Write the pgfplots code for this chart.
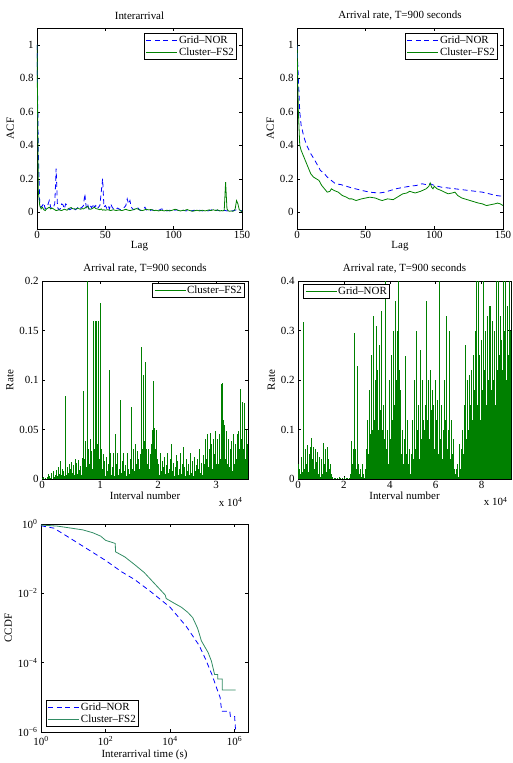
\documentclass[border=0pt]{standalone}
\usepackage{pgfplots}
\pgfplotsset{compat=1.18}
\usepackage{pgfplotstable}
\usepackage{fontspec}
\setmainfont{Liberation Serif}
\newcommand\fs{\fontsize{11}{13}\selectfont}
\definecolor{mblue}{rgb}{0,0,1}
\definecolor{mgreen}{rgb}{0,0.5,0}
\definecolor{tgreen}{RGB}{50,140,100}

% ACF of interarrival times, lags 0..150
\pgfplotstableread[row sep=\\]{y\\
1\\0.12\\0.04\\0.02\\0.03\\0.015\\0.01\\0.02\\0.025\\0.03\\
0.02\\0.025\\0.02\\0.015\\0.01\\0.012\\0.015\\0.012\\0.01\\0.014\\
0.018\\0.015\\0.012\\0.02\\0.025\\0.028\\0.022\\0.02\\0.018\\0.022\\
0.025\\0.02\\0.018\\0.022\\0.02\\0.025\\0.03\\0.035\\0.02\\0.018\\
0.02\\0.025\\0.03\\0.022\\0.02\\0.018\\0.015\\0.02\\0.012\\0.015\\
0.012\\0.014\\0.015\\0.012\\0.01\\0.013\\0.015\\0.012\\0.01\\0.012\\
0.014\\0.012\\0.01\\0.012\\0.015\\0.018\\0.014\\0.012\\0.01\\0.012\\
0.014\\0.016\\0.02\\0.022\\0.018\\0.014\\0.012\\0.01\\0.012\\0.015\\
0.018\\0.015\\0.014\\0.016\\0.015\\0.012\\0.01\\0.012\\0.01\\0.008\\
0.01\\0.012\\0.01\\0.008\\0.01\\0.012\\0.01\\0.008\\0.01\\0.012\\
0.015\\0.018\\0.016\\0.012\\0.01\\0.008\\0.01\\0.012\\0.01\\0.014\\
0.016\\0.012\\0.01\\0.008\\0.006\\0.008\\0.01\\0.012\\0.01\\0.008\\
0.01\\0.012\\0.01\\0.008\\0.01\\0.012\\0.014\\0.01\\0.012\\0.015\\
0.012\\0.01\\0.015\\0.01\\0.008\\0.01\\0.008\\0.012\\0.18\\0.02\\
0.008\\0.006\\0.008\\0.006\\0.008\\0.02\\0.07\\0.05\\0.015\\0.01\\
0.002\\
}\acfClusterIA

\pgfplotstableread[row sep=\\]{y\\
1\\0.35\\0.05\\0.03\\0.04\\0.055\\0.02\\0.03\\0.045\\0.07\\
0.03\\0.02\\0.03\\0.05\\0.26\\0.03\\0.015\\0.02\\0.05\\0.045\\
0.02\\0.05\\0.04\\0.02\\0.015\\0.02\\0.03\\0.025\\0.015\\0.02\\
0.03\\0.02\\0.025\\0.03\\0.04\\0.11\\0.03\\0.05\\0.02\\0.04\\
0.025\\0.05\\0.03\\0.04\\0.02\\0.03\\0.04\\0.12\\0.2\\0.03\\
0.04\\0.025\\0.04\\0.02\\0.05\\0.03\\0.02\\0.015\\0.02\\0.025\\
0.02\\0.015\\0.02\\0.025\\0.03\\0.04\\0.08\\0.05\\0.07\\0.03\\
0.02\\0.015\\0.02\\0.03\\0.025\\0.015\\0.01\\0.015\\0.02\\0.03\\
0.015\\0.01\\0.012\\0.01\\0.015\\0.012\\0.01\\0.008\\0.01\\0.012\\
0.015\\0.02\\0.018\\0.012\\0.01\\0.008\\0.01\\0.012\\0.01\\0.008\\
0.01\\0.012\\0.015\\0.012\\0.01\\0.008\\0.01\\0.012\\0.01\\0.008\\
0.01\\0.012\\0.01\\0.008\\0.01\\0.012\\0.01\\0.008\\0.01\\0.012\\
0.01\\0.008\\0.01\\0.012\\0.01\\0.008\\0.01\\0.012\\0.015\\0.02\\
0.015\\0.01\\0.012\\0.01\\0.008\\0.01\\0.012\\0.01\\0.01\\0.008\\
0.01\\0.012\\0.01\\0.008\\0.01\\0.012\\0.015\\0.012\\0.01\\0.008\\
0.01\\
}\acfGridIA

% Arrival rate per 900 s interval, Cluster-FS2 (one value every 150 intervals)
\pgfplotstableread[row sep=\\]{y\\
0.001\\0\\0.002\\0\\0.001\\0\\0.002\\
0.005\\0\\0.003\\0.001\\0.006\\0\\0.008\\
0.002\\0.004\\0.001\\0.009\\0.003\\0.012\\0.005\\
0.018\\0.004\\0.010\\0.002\\0.008\\0.003\\
0.084\\
0.004\\0.012\\0.006\\0.015\\0.003\\0.010\\0.017\\0.006\\0.014\\0.004\\
0.020\\0.008\\0.016\\0.005\\0.019\\0.009\\0.013\\0.004\\0.021\\0.010\\
0.089\\
0.02\\0.038\\0.012\\0.2\\0.03\\0.015\\0.04\\0.02\\0.028\\0.01\\0.16\\
0.03\\0.16\\0.02\\0.16\\0.035\\0.16\\0.02\\0.178\\0.03\\0.01\\0.025\\
0.005\\0.018\\0.003\\0.022\\0.008\\0.015\\
0.11\\
0.006\\0.026\\0.004\\0.012\\0.026\\0.003\\
0.045\\
0.005\\0.015\\0.026\\0.004\\0.01\\
0.08\\
0.006\\0.018\\0.004\\0.026\\0.008\\
0.014\\0.003\\0.026\\0.01\\0.005\\0.02\\0.007\\
0.073\\
0.01\\0.03\\0.008\\0.035\\0.015\\0.028\\0.006\\0.02\\0.01\\
0.025\\0.133\\0.03\\0.04\\0.105\\0.038\\0.118\\0.03\\0.015\\0.03\\0.01\\
0.025\\0.008\\0.035\\0.05\\0.099\\0.052\\0.03\\0.05\\0.02\\0.01\\
0.015\\0.004\\0.026\\0.008\\0.018\\0.003\\0.012\\0.022\\0.005\\0.014\\
0.026\\0.006\\0.01\\0.02\\0.004\\0.035\\0.008\\0.016\\0.003\\0.012\\
0.024\\0.006\\0.018\\0.004\\0.01\\0.026\\0.005\\0.015\\0.032\\0.007\\
0.012\\0.003\\0.02\\0.008\\0.015\\0.004\\0.026\\0.01\\0.006\\0.018\\
0.003\\0.022\\0.008\\0.014\\0.004\\0.02\\0.01\\0.03\\0.006\\0.016\\
0.004\\0.024\\0.009\\
0.015\\0.04\\0.02\\0.045\\0.012\\0.03\\0.046\\0.018\\0.035\\0.01\\0.04\\0.025\\0.048\\0.015\\
0.03\\0.04\\0.015\\0.045\\0.02\\0.096\\0.097\\0.06\\0.025\\0.055\\
0.02\\0.048\\0.015\\0.04\\0.012\\0.03\\0.02\\0.038\\0.008\\0.045\\
0.015\\0.035\\0.02\\0.045\\0.01\\0.048\\0.03\\0.091\\0.04\\0.078\\
0.03\\0.077\\0.05\\0.02\\0.05\\0.035\\
}\rateCluster

% Arrival rate per 900 s interval, Grid-NOR (one value every 400 intervals)
\pgfplotstableread[row sep=\\]{y\\
0.03\\0.005\\0.02\\0.01\\0.045\\0.015\\
0.318\\
0.02\\0.06\\0.03\\0.068\\0.015\\0.05\\0.065\\0.025\\
0.082\\
0.04\\0.065\\0.02\\0.06\\0.035\\0.055\\0.01\\0.045\\0.005\\
0.02\\0.04\\0.01\\0.072\\0.03\\0.06\\0.015\\0.065\\
0.04\\0.02\\0.03\\0.01\\0.005\\
0.004\\0.001\\0.003\\0.002\\0\\0.002\\0.001\\0.004\\0.002\\0\\
0.003\\0.001\\0.004\\0.001\\0\\0.002\\0.003\\0.001\\0.002\\0.01\\
0.077\\0.03\\0.06\\0.295\\0.04\\0.06\\0.02\\0.228\\0.03\\0.01\\0.02\\0.005\\0.03\\0.01\\0.002\\0.02\\0.005\\
0.06\\0.12\\0.05\\0.18\\0.09\\0.25\\0.1\\0.33\\0.12\\0.2\\
0.31\\0.15\\0.22\\0.1\\0.27\\0.14\\0.34\\0.1\\0.15\\
0.08\\0.4\\0.06\\
0.1\\0.03\\0.15\\0.2\\0.08\\0.25\\0.12\\0.3\\0.15\\0.36\\0.2\\0.3\\0.4\\0.22\\0.12\\0.18\\0.05\\
0.1\\0.03\\0.08\\0.248\\
0.05\\0.12\\0.03\\0.06\\0.01\\
0\\
0.05\\0.12\\0.04\\0.2\\0.06\\0.3\\0.1\\0.15\\0.04\\0.26\\0.08\\0.2\\0.05\\0.12\\
0.1\\0.15\\0.36\\0.12\\0.2\\0.08\\0.22\\0.14\\0.18\\0.1\\0.15\\0.06\\0.2\\0.12\\0.16\\0.05\\0.4\\
0.08\\0.15\\0.04\\0.1\\0.2\\0.07\\0.12\\0.33\\0.06\\0.1\\0.3\\0.04\\0.12\\0.05\\0.08\\0.02\\0.01\\0.02\\
0.01\\0.03\\0.005\\0.07\\0.02\\0.06\\0.1\\0.05\\
0.15\\0.27\\0.08\\0.2\\0.12\\
0.1\\0.21\\0.15\\0.22\\0.12\\0.25\\0.18\\0.3\\0.4\\0.15\\
0.4\\0.2\\0.25\\0.12\\0.28\\0.18\\0.4\\0.22\\0.3\\0.15\\
0.33\\0.2\\0.35\\0.25\\0.35\\0.18\\0.32\\0.2\\0.3\\0.15\\
0.4\\0.22\\0.4\\0.25\\0.33\\0.18\\0.28\\0.22\\0.4\\0.3\\
0.4\\0.2\\0.35\\0.25\\0.4\\0.3\\0.4\\
}\rateGrid

\pgfplotsset{
  panel/.style={
    scale only axis, anchor=north west,
    font=\fs,
    axis line style={line width=0.5pt},
    every tick/.style={black, line width=0.5pt},
    major tick length=3bp,
    tick align=inside,
    /pgf/number format/assume math mode=true,
    title style={font=\fs, yshift=-1.5bp},
    label style={font=\fs},
    xlabel style={yshift=4bp},
    ylabel style={yshift=-1bp},
    xticklabel style={yshift=1bp},
    legend style={font=\fs, draw=black, line width=0.6pt, inner sep=1.5pt,
      nodes={inner sep=1.2pt}},
    legend cell align=left,
    legend image code/.code={\draw[##1] (0bp,0bp) -- (31bp,0bp);},
    scaled ticks=false,
    yticklabel style={/pgf/number format/fixed, /pgf/number format/precision=2},
  },
  gridline/.style={mblue, line width=0.8pt, dash pattern=on 5bp off 3.5bp},
  clusterline/.style={mgreen, line width=0.8pt},
  tenfour/.style={after end axis/.code={
    \node[anchor=base east, font=\fs] at (rel axis cs:1,0) [xshift=#1, yshift=-27bp] {x 10\textsuperscript{4}};}},
}

\begin{document}
\begin{tikzpicture}
\path[use as bounding box] (0,0) rectangle (513bp,-763bp);

% Autocorrelation of interarrival times
\begin{axis}[panel, at={(37bp,-28bp)}, width=205bp, height=201bp,
  title={Interarrival}, xlabel={Lag}, ylabel={ACF},
  xmin=0, xmax=150, ymin=-0.1, ymax=1.1,
  xtick={0,50,100,150}, ytick={0,0.2,0.4,0.6,0.8,1},
  legend style={at={(0.975,0.975)}, anchor=north east}]
\addplot[gridline] table[x expr=\coordindex, y=y]{\acfGridIA};
\addlegendentry{Grid--NOR}
\addplot[clusterline] table[x expr=\coordindex, y=y]{\acfClusterIA};
\addlegendentry{Cluster--FS2}
\end{axis}

% Autocorrelation of arrival rate
\begin{axis}[panel, at={(297bp,-28bp)}, width=206bp, height=201bp,
  title={Arrival rate, T=900 seconds}, xlabel={Lag}, ylabel={ACF},
  xmin=0, xmax=150, ymin=-0.1, ymax=1.1,
  xtick={0,50,100,150}, ytick={0,0.2,0.4,0.6,0.8,1},
  legend style={at={(0.975,0.975)}, anchor=north east}]
\addplot[gridline] coordinates {(0,1)(1,0.8)(2,0.6)(3,0.52)(5,0.45)(7,0.4)(10,0.35)(13,0.31)(15,0.28)(17,0.25)(20,0.23)(22,0.21)(25,0.19)(28,0.17)(32,0.165)(36,0.155)(40,0.145)(45,0.135)(50,0.125)(55,0.118)(60,0.115)(64,0.12)(68,0.13)(72,0.14)(77,0.148)(82,0.155)(87,0.16)(91,0.17)(94,0.165)(97,0.17)(100,0.16)(105,0.15)(110,0.145)(115,0.14)(120,0.135)(125,0.13)(130,0.125)(135,0.12)(140,0.11)(145,0.1)(150,0.095)};
\addlegendentry{Grid--NOR}
\addplot[clusterline] coordinates {(0,1)(1,0.6)(2,0.4)(3,0.37)(5,0.33)(7,0.29)(8,0.27)(10,0.23)(12,0.21)(14,0.2)(16,0.19)(18,0.16)(20,0.14)(22,0.12)(24,0.125)(25,0.14)(27,0.13)(30,0.12)(33,0.1)(36,0.09)(38,0.08)(40,0.08)(43,0.07)(47,0.08)(50,0.085)(53,0.09)(57,0.085)(60,0.075)(62,0.07)(66,0.08)(70,0.075)(73,0.09)(77,0.11)(80,0.115)(82,0.125)(86,0.115)(90,0.125)(94,0.14)(96,0.155)(97,0.175)(98,0.15)(99,0.14)(100,0.155)(102,0.14)(105,0.13)(110,0.11)(113,0.115)(115,0.12)(117,0.1)(120,0.085)(124,0.075)(128,0.065)(132,0.055)(135,0.05)(138,0.04)(141,0.045)(144,0.05)(146,0.055)(148,0.05)(150,0.04)};
\addlegendentry{Cluster--FS2}
\end{axis}

% Arrival rate series, Cluster-FS2
\begin{axis}[panel, tenfour=-2bp, at={(42bp,-281bp)}, width=206bp, height=198bp,
  title={Arrival rate, T=900 seconds}, xlabel={Interval number}, ylabel={Rate},
  xmin=0, xmax=3.55, ymin=0, ymax=0.2,
  xtick={0,1,2,3}, ytick={0,0.05,0.1,0.15,0.2},
  legend style={at={(0.985,0.99)}, anchor=north east}]
\addplot[mgreen, line width=0.75pt, ycomb, forget plot] table[x expr=\coordindex*0.015, y=y]{\rateCluster};
\addlegendimage{clusterline}
\addlegendentry{Cluster--FS2}
\end{axis}

% Arrival rate series, Grid-NOR
\begin{axis}[panel, tenfour=0bp, at={(298bp,-281bp)}, width=213bp, height=198bp,
  title={Arrival rate, T=900 seconds}, xlabel={Interval number}, ylabel={Rate},
  xmin=0, xmax=9.28, ymin=0, ymax=0.4,
  xtick={0,2,4,6,8}, ytick={0,0.1,0.2,0.3,0.4},
  legend style={at={(0.025,0.985)}, anchor=north west}]
\addplot[mgreen, line width=0.8pt, ycomb, forget plot] table[x expr=\coordindex*0.04, y=y]{\rateGrid};
\addlegendimage{clusterline}
\addlegendentry{Grid--NOR}
\end{axis}

% CCDF of interarrival times
\begin{axis}[panel, at={(41bp,-524bp)}, width=207bp, height=208bp,
  xmode=log, ymode=log, xlabel={Interarrival time (s)}, ylabel={CCDF},
  xmin=1, xmax=2.6e6, ymin=1e-6, ymax=1,
  xtick={1,100,1e4,1e6}, ytick={1e-6,1e-4,1e-2,1},
  xticklabels={10\textsuperscript{0},10\textsuperscript{2},10\textsuperscript{4},10\textsuperscript{6}},
  yticklabels={10\textsuperscript{−6},10\textsuperscript{−4},10\textsuperscript{−2},10\textsuperscript{0}},
  xticklabel style={yshift=-2bp},
  xlabel style={yshift=-1bp},
  xminorticks=false, yminorticks=false,
  legend style={at={(0.025,0.025)}, anchor=south west}]
\addplot[gridline] coordinates {(1,0.891)(2.51,0.759)(6.31,0.447)(25.1,0.2)(100,0.0891)(316,0.0417)(794,0.0251)(2512,0.0112)(1e4,0.00398)(31623,0.00112)(79433,3.16e-4)(125893,1.26e-4)(199526,4.47e-5)(281838,1.78e-5)(354813,1e-5)(398107,3.98e-6)(707946,3.98e-6)(741310,2.82e-6)(1e6,2.82e-6)(1071519,1.12e-6)};
\addlegendentry{Grid--NOR}
\addplot[tgreen, line width=0.8pt] coordinates {(1,0.933)(3.16,0.871)(6.31,0.794)(20,0.676)(39.8,0.562)(70.8,0.447)(100,0.339)(200,0.275)(204,0.158)(398,0.112)(794,0.0676)(1585,0.0398)(2512,0.0251)(5012,0.0126)(7079,0.00891)(7586,0.00708)(12589,0.00537)(22387,0.00398)(35481,0.00282)(50119,0.002)(70795,0.001)(79433,7.08e-4)(93325,4.27e-4)(151356,1.95e-4)(190546,1.12e-4)(239883,4.57e-5)(301995,4.57e-5)(301995,3.39e-5)(416869,3.39e-5)(416869,1.62e-5)(1071519,1.62e-5)};
\addlegendentry{Cluster--FS2}
\end{axis}
\end{tikzpicture}
\end{document}
